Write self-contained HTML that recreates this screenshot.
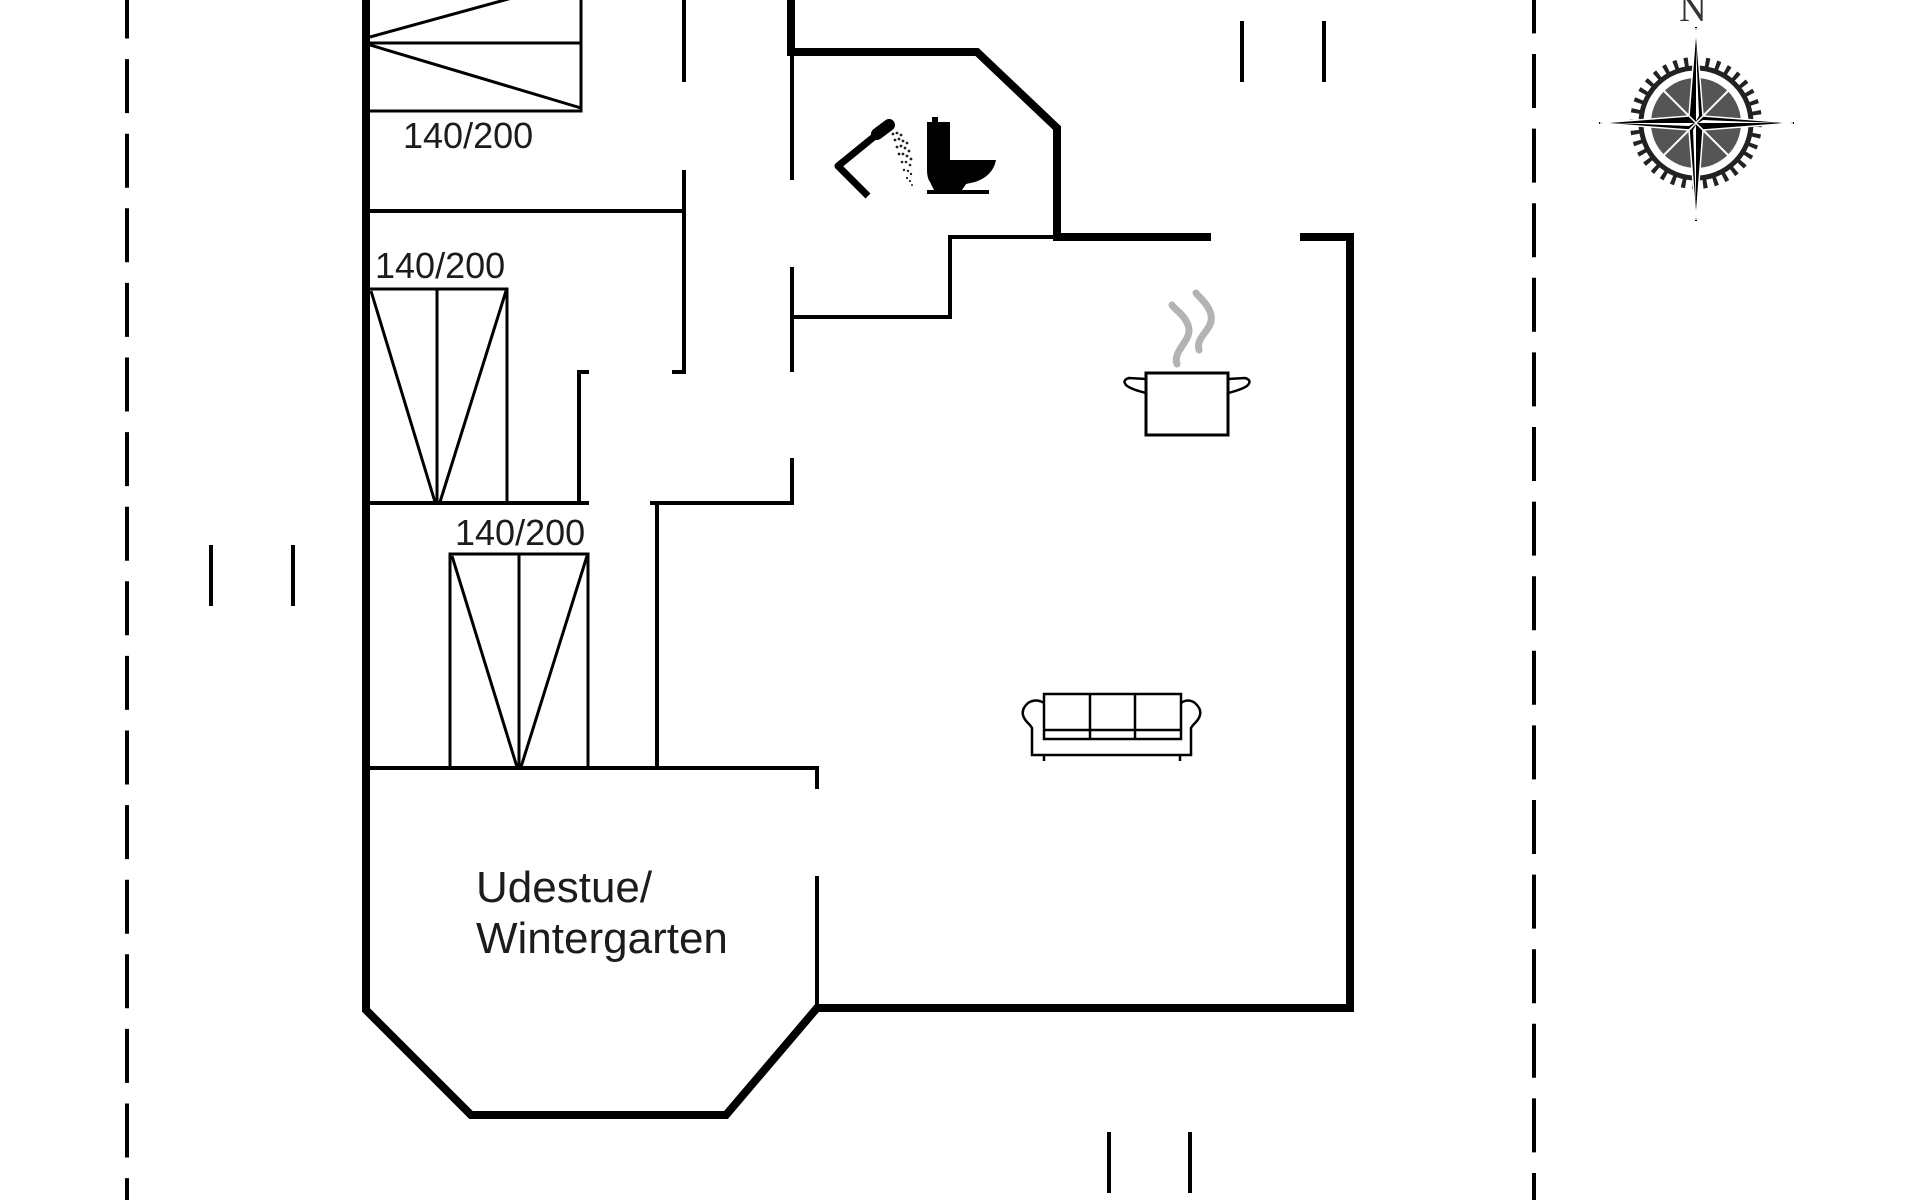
<!DOCTYPE html>
<html><head><meta charset="utf-8"><style>
html,body{margin:0;padding:0;background:#fff;}
svg{display:block;}
</style></head><body>
<svg width="1920" height="1200" viewBox="0 0 1920 1200" xmlns="http://www.w3.org/2000/svg">
<rect width="1920" height="1200" fill="#fff"/>

<!-- plot boundary dashed lines -->
<line x1="127" y1="0" x2="127" y2="1200" stroke="#000" stroke-width="4" stroke-dasharray="54 20.6" stroke-dashoffset="15.5"/>
<line x1="1534" y1="0" x2="1534" y2="1200" stroke="#000" stroke-width="4" stroke-dasharray="54 20.6" stroke-dashoffset="20.6"/>

<!-- short marker pairs -->
<g stroke="#000" stroke-width="4">
<line x1="211" y1="545" x2="211" y2="606"/><line x1="293" y1="545" x2="293" y2="606"/>
<line x1="1242" y1="21" x2="1242" y2="82"/><line x1="1324" y1="21" x2="1324" y2="82"/>
<line x1="1109" y1="1132" x2="1109" y2="1193"/><line x1="1190" y1="1132" x2="1190" y2="1193"/>
</g>

<!-- thick exterior walls -->
<g fill="none" stroke="#000" stroke-width="8" stroke-linejoin="miter">
<path d="M366 0 L366 1010 L471 1115 L726 1115 L817 1008 L1350 1008 L1350 237 L1300 237"/>
<path d="M1211 237 L1057 237 L1057 128 L977 52 L791 52 L791 0"/>
</g>

<!-- thin interior walls -->
<g fill="none" stroke="#000" stroke-width="4" stroke-linejoin="miter">
<line x1="684" y1="0" x2="684" y2="82"/>
<path d="M684 170 L684 372 L672 372"/>
<line x1="366" y1="211" x2="684" y2="211"/>
<path d="M589 372 L579 372 L579 503"/>
<line x1="366" y1="503" x2="589" y2="503"/>
<path d="M650 503 L792 503 L792 458"/>
<line x1="657" y1="503" x2="657" y2="768"/>
<path d="M366 768 L817 768 L817 789"/>
<line x1="817" y1="876" x2="817" y2="1008"/>
<line x1="792" y1="53" x2="792" y2="180"/>
<line x1="792" y1="267" x2="792" y2="372"/>
<path d="M792 317 L950 317 L950 237 L1057 237"/>
</g>

<!-- beds -->
<g fill="none" stroke="#000" stroke-width="3">
<path d="M370 111 L581 111 L581 -30"/>
<line x1="370" y1="43" x2="581" y2="43"/>
<line x1="370" y1="37" x2="581" y2="-21"/>
<line x1="370" y1="45" x2="581" y2="108"/>

<path d="M370 289 L507 289 L507 503"/>
<line x1="437" y1="289" x2="437" y2="503"/>
<line x1="371" y1="291" x2="435" y2="502"/>
<line x1="506" y1="291" x2="440" y2="502"/>

<rect x="450" y="554" width="138" height="214"/>
<line x1="519" y1="554" x2="519" y2="768"/>
<line x1="452" y1="556" x2="517" y2="767"/>
<line x1="587" y1="556" x2="521" y2="767"/>
</g>

<!-- labels -->
<g font-family="'Liberation Sans', Arial, sans-serif" fill="#1c1c1c">
<text x="403" y="148" font-size="36">140/200</text>
<text x="375" y="278" font-size="36">140/200</text>
<text x="455" y="545" font-size="36">140/200</text>
<text x="476" y="902" font-size="44">Udestue/</text>
<text x="476" y="953" font-size="44">Wintergarten</text>
</g>

<!-- shower -->
<path d="M886 127 L838 166 L868 196" stroke="#000" stroke-width="7" fill="none" stroke-linejoin="round"/>
<line x1="877" y1="134" x2="889" y2="125" stroke="#000" stroke-width="12" stroke-linecap="round"/>
<g fill="#222">
<circle cx="893" cy="134" r="1.4"/><circle cx="897" cy="133" r="1.4"/><circle cx="901" cy="135" r="1.4"/>
<circle cx="895" cy="140" r="1.4"/><circle cx="899" cy="139" r="1.4"/><circle cx="903" cy="141" r="1.4"/><circle cx="907" cy="143" r="1.4"/>
<circle cx="897" cy="147" r="1.4"/><circle cx="901" cy="146" r="1.4"/><circle cx="905" cy="148" r="1.4"/><circle cx="909" cy="151" r="1.4"/>
<circle cx="899" cy="154" r="1.4"/><circle cx="903" cy="154" r="1.4"/><circle cx="907" cy="156" r="1.4"/><circle cx="911" cy="159" r="1.4"/>
<circle cx="902" cy="162" r="1.3"/><circle cx="906" cy="162" r="1.3"/><circle cx="910" cy="165" r="1.3"/>
<circle cx="904" cy="170" r="1.2"/><circle cx="908" cy="171" r="1.2"/><circle cx="911" cy="174" r="1.2"/>
<circle cx="907" cy="178" r="1.1"/><circle cx="910" cy="181" r="1.1"/><circle cx="912" cy="185" r="1"/>
</g>

<!-- toilet -->
<g fill="#000">
<rect x="932" y="117" width="6" height="7"/>
<rect x="927" y="122" width="23" height="45"/>
<path d="M927 160 L996 160 Q993 176 975 182 L966 184 L962 190 L934 190 L930 182 Q927 178 927 170 Z"/>
<rect x="927" y="190" width="62" height="4"/>
</g>

<!-- pot -->
<g fill="none" stroke="#000" stroke-width="3">
<rect x="1146" y="373" width="82" height="62"/>
<path d="M1146 379 L1129 378 Q1122 380 1126 385 Q1130 389 1146 393" stroke-width="2.5"/>
<path d="M1228 379 L1245 378 Q1252 380 1248 385 Q1244 389 1228 393" stroke-width="2.5"/>
</g>
<g fill="none" stroke="#b3b3b3" stroke-width="7" stroke-linecap="round">
<path d="M1177 364 C1172 350 1194 340 1188 325 C1184 314 1175 310 1172 305"/>
<path d="M1199 350 C1195 336 1214 330 1211 315 C1209 305 1200 298 1196 293"/>
</g>

<!-- compass -->
<g>
<text x="1693" y="21" font-family="'Liberation Serif', serif" font-size="38" text-anchor="middle" fill="#333">N</text>
<circle cx="1696" cy="123" r="61" fill="none" stroke="#222" stroke-width="10" stroke-dasharray="4 6.6"/>
<circle cx="1696" cy="123" r="55" fill="none" stroke="#222" stroke-width="5"/>
<circle cx="1696" cy="123" r="45" fill="#555"/>
<g stroke="#fff" stroke-width="2">
<line x1="1664" y1="91" x2="1728" y2="155"/>
<line x1="1728" y1="91" x2="1664" y2="155"/>
</g>
<g stroke="#000" stroke-width="2">
<line x1="1696" y1="27" x2="1696" y2="221"/>
<line x1="1599" y1="123" x2="1794" y2="123"/>
</g>
<g stroke="#fff" stroke-width="1.5" stroke-linejoin="miter">
<polygon points="1696,28 1703,116 1696,123 1689,116" fill="#000"/>
<polygon points="1696,220 1703,130 1696,123 1689,130" fill="#000"/>
<polygon points="1600,123 1689,116 1696,123 1689,130" fill="#000"/>
<polygon points="1793,123 1703,116 1696,123 1703,130" fill="#000"/>
</g>
<g fill="#fff">
<polygon points="1696,45 1699,116 1696,121"/>
<polygon points="1615,123 1689,126 1694,123"/>
<polygon points="1696,205 1693,130 1696,125"/>
<polygon points="1778,123 1703,120 1698,123"/>
</g>
</g>

<!-- sofa -->
<g fill="none" stroke="#000" stroke-width="2.5">
<rect x="1044" y="694" width="137" height="45"/>
<line x1="1090" y1="694" x2="1090" y2="739"/>
<line x1="1135" y1="694" x2="1135" y2="739"/>
<line x1="1044" y1="730" x2="1181" y2="730"/>
<path d="M1044 703 Q1036 698 1028 703 Q1018 712 1027 722 Q1031 726 1032 728 L1032 755 L1191 755 L1191 728 Q1192 726 1196 722 Q1205 712 1195 703 Q1188 698 1181 703"/>
<line x1="1044" y1="755" x2="1044" y2="761"/>
<line x1="1180" y1="755" x2="1180" y2="761"/>
</g>
</svg>
</body></html>
